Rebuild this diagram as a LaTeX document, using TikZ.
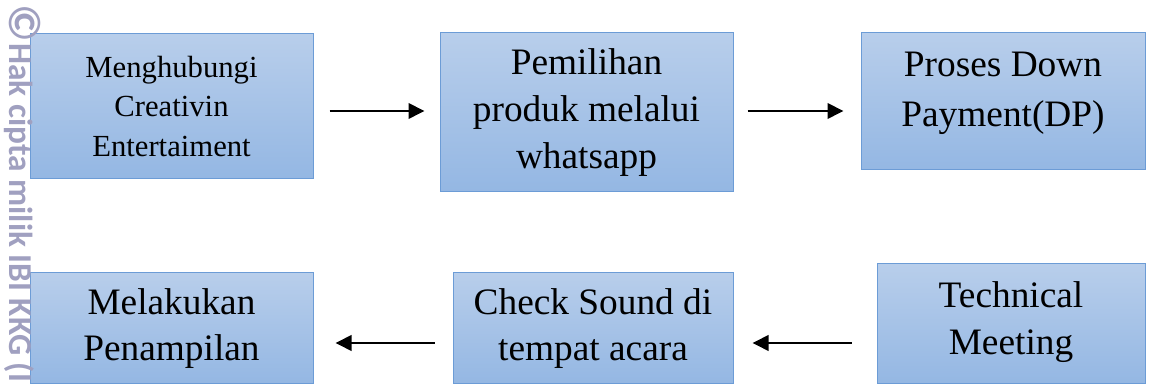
\documentclass[tikz,border=0pt]{standalone}
\usepackage{fontspec}
\setmainfont{Liberation Serif}
\newfontfamily\wmfont{Carlito}
\usetikzlibrary{arrows.meta}

\definecolor{boxtop}{RGB}{184,206,235}
\definecolor{boxbottom}{RGB}{148,183,227}
\definecolor{boxline}{RGB}{108,156,214}
\definecolor{wmgrey}{RGB}{160,160,192}

\begin{document}
\begin{tikzpicture}[x=0.75pt,y=0.75pt,
    box/.style={draw=boxline, line width=0.75pt, top color=boxtop,
      bottom color=boxbottom, align=center, inner sep=0pt,
      font=\fontsize{28}{35}\selectfont},
    flow/.style={line width=2pt, -{Triangle[length=12pt,width=11.5pt]}}]
  \useasboundingbox (0,0) rectangle (1150,385);
  % top row
  \node[box, minimum width=212.25pt, minimum height=108.75pt,
    font=\fontsize{23}{29.6}\selectfont]
    (contact) at (171.5,278.5) {Menghubungi\\Creativin\\Entertaiment};
  \node[box, minimum width=219.75pt, minimum height=119.25pt]
    (choose) at (586.5,272.5) {Pemilihan\\produk melalui\\whatsapp};
  \node[box, minimum width=213pt, minimum height=102.75pt, text depth=18.5pt,
    font=\fontsize{28}{38}\selectfont]
    (dp) at (1003,283.5) {Proses Down\\Payment(DP)};
  % bottom row
  \node[box, minimum width=212.25pt, minimum height=83.25pt]
    (perform) at (171.5,56.5) {Melakukan\\Penampilan};
  \node[box, minimum width=210pt, minimum height=83.25pt]
    (check) at (593,56.5) {Check Sound di\\tempat acara};
  \node[box, minimum width=201pt, minimum height=90pt, text depth=9pt]
    (meeting) at (1011,61) {Technical\\Meeting};
  % arrows
  \draw[flow, shorten <=12pt, shorten >=11.25pt]
    (contact.east |- 0,274) -- (choose.west |- 0,274);
  \draw[flow, shorten <=10.5pt, shorten >=12.75pt]
    (choose.east |- 0,274) -- (dp.west |- 0,274);
  \draw[flow, shorten <=18.75pt, shorten >=14.25pt]
    (meeting.west |- 0,42) -- (check.east |- 0,42);
  \draw[flow, shorten <=13.5pt, shorten >=16.5pt]
    (check.west |- 0,42) -- (perform.east |- 0,42);
  % watermark
  \node[rotate=-90, anchor=base west, inner sep=0pt, text=wmgrey,
    font=\wmfont\bfseries\fontsize{25}{30}\selectfont]
    (mark) at (9,381) {{\fontsize{34}{34}\selectfont ©}\hspace{1pt}Hak cipta milik IBI KKG (I};
\end{tikzpicture}
\end{document}
